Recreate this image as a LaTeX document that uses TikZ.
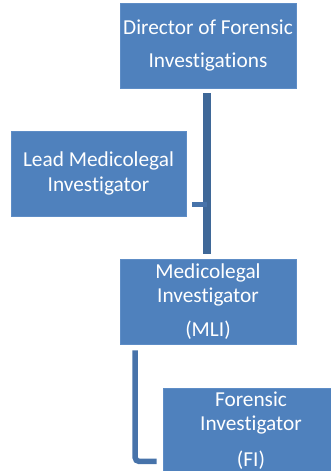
\documentclass[tikz,border=0pt]{standalone}
\usepackage{fontspec}
\setmainfont{Carlito}[Ligatures=NoCommon]
\definecolor{boxblue}{HTML}{4F81BD}
\definecolor{boxedge}{HTML}{5E8DC6}
\definecolor{lineA}{HTML}{3F6898}
\definecolor{lineB}{HTML}{4773AA}
\tikzset{
  orgbox/.style={rectangle, fill=boxblue, draw=boxedge, line width=0.8pt,
    minimum width=176pt, minimum height=85pt, inner sep=0pt,
    text=white, align=center,
    font=\fontsize{21.3pt}{24.5pt}\selectfont},
  thickline/.style={draw=lineA, line width=7.5pt},
  thinline/.style={draw=lineB, line width=5.5pt, rounded corners=4pt}
}
\begin{document}
\begin{tikzpicture}[x=1pt,y=-1pt]
\useasboundingbox (0,0) rectangle (331,471);
\clip (0,0) rectangle (331,471);
\node[orgbox] (dir)  at (208,45.5) {Director of Forensic\\[8.5pt]Investigations};
\node[orgbox, minimum width=175pt] (lead) at (98.5,173.5) {Lead Medicolegal\\Investigator};
\node[orgbox] (mli)  at (208,301.5) {Medicolegal\\Investigator\\[9pt](MLI)};
\node[orgbox] (fi)   at (251,430.5) {Forensic\\Investigator\\[11pt](FI)};
% connector director -> MLI with stub to lead
\coordinate (topA) at ([xshift=-1pt,yshift=-5pt]dir.south);
\coordinate (botA) at ([xshift=-1pt,yshift=5pt]mli.north);
\draw[thickline] (topA) -- (botA);
\coordinate (stubL) at ([xshift=6pt,yshift=12pt]lead.south east);
\coordinate (stubR) at (topA |- stubL);
\draw[thinline] (stubL) -- (stubR);
% connector MLI -> FI
\coordinate (topB) at ([xshift=15.5pt,yshift=-6pt]mli.south west);
\coordinate (endB) at ([xshift=-6pt,yshift=12pt]fi.south west);
\draw[thinline] (topB) |- (endB);
\end{tikzpicture}
\end{document}
